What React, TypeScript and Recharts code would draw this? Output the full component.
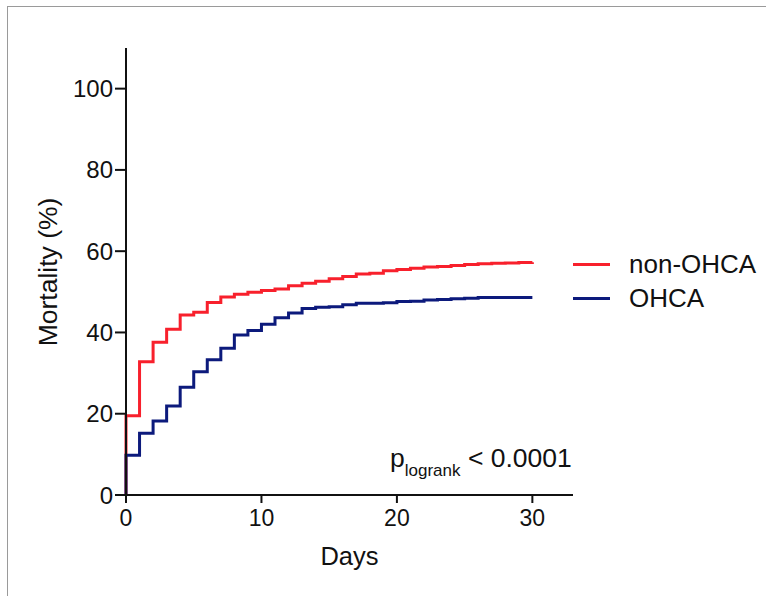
import React from 'react';
import { LineChart, Line, XAxis, YAxis, Legend, Customized } from 'recharts';

const days = [0, 0, 1, 2, 3, 4, 5, 6, 7, 8, 9, 10, 11, 12, 13, 14, 15, 16, 17, 18, 19, 20, 21, 22, 23, 24, 25, 26, 27, 28, 29, 30];
const nonOhca = [0, 19.5, 32.8, 37.6, 40.8, 44.3, 45.0, 47.4, 48.7, 49.4, 49.9, 50.3, 50.7, 51.5, 52.1, 52.6, 53.2, 53.8, 54.4, 54.6, 55.2, 55.5, 55.8, 56.1, 56.2, 56.5, 56.7, 56.9, 57.0, 57.1, 57.2, 57.3];
const ohca = [0, 9.8, 15.2, 18.2, 21.9, 26.5, 30.3, 33.3, 36.1, 39.4, 40.5, 42.0, 43.6, 44.8, 45.9, 46.2, 46.3, 46.8, 47.2, 47.2, 47.3, 47.6, 47.7, 48.0, 48.1, 48.3, 48.4, 48.6, 48.6, 48.6, 48.6, 48.6];
const xTicks = [0, 10, 20, 30];
const yTicks = [0, 20, 40, 60, 80, 100];
const seriesNames = ['non-OHCA', 'OHCA'];
const seriesColors = ['#f8202c', '#0c1a7c'];

const data = days.map((d, i) => ({ day: d, nonOhca: nonOhca[i], ohca: ohca[i] }));

const FONT = '"Liberation Sans", Arial, Helvetica, sans-serif';

const YLabel = () => (
  <text
    x={48}
    y={272}
    transform="rotate(-90, 48, 272)"
    textAnchor="middle"
    dominantBaseline="central"
    fontSize={26.5}
    fontFamily={FONT}
    fill="#111"
  >
    Mortality (%)
  </text>
);

const PText = () => (
  <text x={390} y={467} fontFamily={FONT} fill="#111" fontSize={26.5}>
    p
    <tspan dy={9} fontSize={17}>logrank</tspan>
    <tspan dy={-9} fontSize={26.5}> &lt; 0.0001</tspan>
  </text>
);

const LegendContent = (props: any) => {
  const payload = [...(props.payload || [])].sort(
    (a: any, b: any) => seriesNames.indexOf(a.value) - seriesNames.indexOf(b.value)
  );
  return (
    <div style={{ fontFamily: FONT, fontSize: 26, color: '#111' }}>
      {payload.map((p: any, i: number) => (
        <div key={i} style={{ display: 'flex', alignItems: 'center', height: 34 }}>
          <div style={{ width: 37, height: 3, background: p.color, marginRight: 19 }} />
          <span>{p.value}</span>
        </div>
      ))}
    </div>
  );
};

export default function App() {
  return (
    <div style={{ position: 'absolute', left: 0, top: 0, width: 766, height: 596, background: '#fff' }}>
      <div
        style={{
          position: 'absolute',
          left: 7,
          top: 6,
          width: 766 - 7,
          height: 596 - 6,
          borderTop: '1px solid #9a9a9a',
          borderLeft: '1px solid #9a9a9a',
          boxSizing: 'border-box',
        }}
      />
      <div style={{ position: 'absolute', left: 0, top: 0 }}>
        <LineChart
          width={766}
          height={596}
          data={data}
          margin={{ top: 48, right: 193, bottom: 71, left: 46 }}
        >
          <XAxis
            dataKey="day"
            type="number"
            domain={[0, 33]}
            ticks={xTicks}
            height={30}
            axisLine={{ stroke: '#111', strokeWidth: 2 }}
            tickLine={{ stroke: '#111', strokeWidth: 2 }}
            tickSize={8}
            tickMargin={7}
            tick={{ fill: '#111', fontSize: 23, fontFamily: FONT }}
            label={{
              value: 'Days',
              position: 'bottom',
              offset: 22,
              fill: '#111',
              fontSize: 25.5,
              fontFamily: FONT,
            }}
          />
          <YAxis
            type="number"
            domain={[0, 110]}
            ticks={yTicks}
            width={80}
            axisLine={{ stroke: '#111', strokeWidth: 2 }}
            tickLine={{ stroke: '#111', strokeWidth: 2 }}
            tickSize={11}
            tickMargin={2}
            tick={{ fill: '#111', fontSize: 24, fontFamily: FONT }}
            label={<YLabel />}
          />
          <Line
            type="stepAfter"
            dataKey="nonOhca"
            name={seriesNames[0]}
            stroke={seriesColors[0]}
            strokeWidth={3}
            dot={false}
            isAnimationActive={false}
          />
          <Line
            type="stepAfter"
            dataKey="ohca"
            name={seriesNames[1]}
            stroke={seriesColors[1]}
            strokeWidth={3}
            dot={false}
            isAnimationActive={false}
          />
          <Legend
            layout="horizontal"
            verticalAlign="middle"
            align="center"
            wrapperStyle={{ position: 'absolute', left: 573, top: 247, width: 192 }}
            content={<LegendContent />}
          />
          <Customized component={<PText />} />
        </LineChart>
      </div>
    </div>
  );
}
